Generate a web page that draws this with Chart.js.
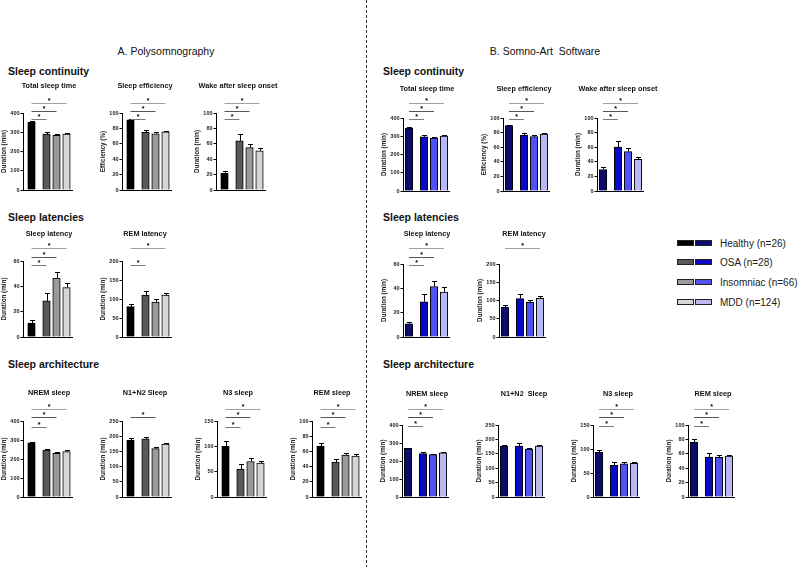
<!DOCTYPE html>
<html>
<head>
<meta charset="utf-8">
<script src="https://cdn.jsdelivr.net/npm/chart.js@4.4.1/dist/chart.umd.min.js"></script>
<style>
  html, body { margin: 0; padding: 0; background: #fff; }
  body { width: 800px; height: 567px; position: relative; overflow: hidden; font-family: 'Liberation Sans', Arial, sans-serif; color: #111; }
  canvas { position: absolute; }
  .lbl { position: absolute; white-space: pre; line-height: 1; }
  .panel { font-size: 10.5px; transform: translate(-50%, -50%); }
  .section { font-size: 10.5px; font-weight: bold; transform: translateY(-50%); }
  .divider { position: absolute; left: 366px; top: 0; width: 1px; height: 567px;
    background: repeating-linear-gradient(to bottom, #333 0 3px, transparent 3px 5px); }
  .sw { position: absolute; width: 17px; height: 6px; border: 1px solid #222; box-sizing: border-box; }
  .leg { position: absolute; font-size: 10px; color: #222; transform: translateY(-50%); white-space: pre; }
</style>
</head>
<body>
<div class="divider"></div>
<div class="lbl panel" style="left:166px;top:51px">A. Polysomnography</div>
<div class="lbl panel" style="left:545px;top:51px">B. Somno-Art  Software</div>

<script>
const FONT = "'Liberation Sans', Arial, sans-serif"
Chart.defaults.font.family = FONT

const groups = ['Healthy (n=26)', 'OSA (n=28)', 'Insomniac (n=66)', 'MDD (n=124)']
const barSlots = [0, 1.5, 2.5, 3.5]
const grayColors = ['#000000', '#595959', '#9a9a9a', '#d6d6d6']
const blueColors = ['#0c0c6e', '#0a0ac4', '#5252f2', '#b8b8f6']
const bracketColors = ['#7a7a7a', '#555555', '#a0a0a0']

// A. Polysomnography, mean and SEM
const psgTotalSleep = [352, 290, 284, 291]
const psgTotalSleepErr = [5, 12, 7, 5]
const psgEfficiency = [91, 75, 73, 75.5]
const psgEfficiencyErr = [1.5, 3.5, 2, 1.5]
const psgWaso = [21.5, 64, 55, 51]
const psgWasoErr = [3.5, 9, 4.5, 4]
const psgSleepLatency = [11, 28.5, 46.5, 39]
const psgSleepLatencyErr = [2.5, 6.5, 5, 4]
const psgRemLatency = [80, 110, 92, 110]
const psgRemLatencyErr = [8, 12, 7, 5]
const psgNrem = [285, 247, 230, 239]
const psgNremErr = [7, 8, 6, 6]
const psgN1N2 = [187, 191, 159, 174]
const psgN1N2Err = [8, 8, 6, 5]
const psgN3 = [100, 55, 70, 67]
const psgN3Err = [11, 10, 6, 4]
const psgRem = [67, 46, 55, 54]
const psgRemErr = [4.5, 4.5, 2.5, 2]

// B. Somno-Art Software, mean and SEM
const saTotalSleep = [345, 297, 290, 301]
const saTotalSleepErr = [5, 12, 7, 5]
const saEfficiency = [89.5, 76.5, 74.5, 78]
const saEfficiencyErr = [1.5, 3.5, 2.5, 2]
const saWaso = [29.5, 60, 54, 43.5]
const saWasoErr = [4, 9, 4.5, 3]
const saSleepLatency = [10.8, 29, 41.5, 37]
const saSleepLatencyErr = [1.7, 6, 4.5, 4]
const saRemLatency = [81, 105, 95, 106]
const saRemLatencyErr = [7, 12, 6, 6]
const saNrem = [270, 241, 235, 245]
const saNremErr = [4, 9, 4, 5]
const saN1N2 = [177, 177, 166, 177]
const saN1N2Err = [4, 9, 5, 5]
const saN3 = [93, 66, 69, 70]
const saN3Err = [4, 7, 3.5, 3]
const saRem = [76, 55.5, 55, 57]
const saRemErr = [4, 5, 3, 2]

// rows: y of top tick, y of zero, title y, bracket y for bars 2..4
const rowA1 = { top: 113, bottom: 190, titleY: 86, brackets: [119, 111, 103] }
const rowA2 = { top: 261, bottom: 337, titleY: 234, brackets: [265, 257, 248] }
const rowA3 = { top: 421, bottom: 497, titleY: 393, brackets: [427, 417, 409] }
const rowB1 = { top: 118, bottom: 191, titleY: 89, brackets: [119, 111, 103] }
const rowB2 = { top: 264, bottom: 337, titleY: 234, brackets: [265, 257, 248] }
const rowB3 = { top: 425, bottom: 497, titleY: 394, brackets: [426, 417, 409] }

const charts = [
  { panel: 'A', row: rowA1, axisX: 23, titleX: 49, title: 'Total sleep time', yTitle: 'Duration (min)', max: 400, step: 100, values: psgTotalSleep, errors: psgTotalSleepErr, sig: [1, 2, 3] },
  { panel: 'A', row: rowA1, axisX: 122, titleX: 145, title: 'Sleep efficiency', yTitle: 'Efficiency (%)', max: 100, step: 20, values: psgEfficiency, errors: psgEfficiencyErr, sig: [1, 2, 3] },
  { panel: 'A', row: rowA1, axisX: 216, titleX: 238, title: 'Wake after sleep onset', yTitle: 'Duration (min)', max: 100, step: 20, values: psgWaso, errors: psgWasoErr, sig: [1, 2, 3] },
  { panel: 'A', row: rowA2, axisX: 23, titleX: 49, title: 'Sleep latency', yTitle: 'Duration (min)', max: 60, step: 20, values: psgSleepLatency, errors: psgSleepLatencyErr, sig: [1, 2, 3] },
  { panel: 'A', row: rowA2, axisX: 122, titleX: 145, title: 'REM latency', yTitle: 'Duration (min)', max: 200, step: 50, values: psgRemLatency, errors: psgRemLatencyErr, sig: [1, 3] },
  { panel: 'A', row: rowA3, axisX: 23, titleX: 49, title: 'NREM sleep', yTitle: 'Duration (min)', max: 400, step: 100, values: psgNrem, errors: psgNremErr, sig: [1, 2, 3] },
  { panel: 'A', row: rowA3, axisX: 122, titleX: 145, title: 'N1+N2 Sleep', yTitle: 'Duration (min)', max: 250, step: 50, values: psgN1N2, errors: psgN1N2Err, sig: [2] },
  { panel: 'A', row: rowA3, axisX: 217, titleX: 238, title: 'N3 sleep', yTitle: 'Duration (min)', max: 150, step: 50, values: psgN3, errors: psgN3Err, sig: [1, 2, 3] },
  { panel: 'A', row: rowA3, axisX: 312, titleX: 332, title: 'REM sleep', yTitle: 'Duration (min)', max: 100, step: 20, values: psgRem, errors: psgRemErr, sig: [1, 2, 3] },

  { panel: 'B', row: rowB1, axisX: 403, titleX: 427, title: 'Total sleep time', yTitle: 'Duration (min)', max: 400, step: 100, values: saTotalSleep, errors: saTotalSleepErr, sig: [1, 2, 3] },
  { panel: 'B', row: rowB1, axisX: 503, titleX: 524, title: 'Sleep efficiency', yTitle: 'Efficiency (%)', max: 100, step: 20, values: saEfficiency, errors: saEfficiencyErr, sig: [1, 2, 3] },
  { panel: 'B', row: rowB1, axisX: 597, titleX: 618, title: 'Wake after sleep onset', yTitle: 'Duration (min)', max: 100, step: 20, values: saWaso, errors: saWasoErr, sig: [1, 2, 3] },
  { panel: 'B', row: rowB2, axisX: 403, titleX: 427, title: 'Sleep latency', yTitle: 'Duration (min)', max: 60, step: 20, values: saSleepLatency, errors: saSleepLatencyErr, sig: [1, 2, 3] },
  { panel: 'B', row: rowB2, axisX: 499, titleX: 524, title: 'REM latency', yTitle: 'Duration (min)', max: 200, step: 50, values: saRemLatency, errors: saRemLatencyErr, sig: [3] },
  { panel: 'B', row: rowB3, axisX: 402, titleX: 427, title: 'NREM sleep', yTitle: 'Duration (min)', max: 400, step: 100, values: saNrem, errors: saNremErr, sig: [1, 2, 3] },
  { panel: 'B', row: rowB3, axisX: 498, titleX: 524, title: 'N1+N2  Sleep', yTitle: 'Duration (min)', max: 250, step: 50, values: saN1N2, errors: saN1N2Err, sig: [] },
  { panel: 'B', row: rowB3, axisX: 593, titleX: 618, title: 'N3 sleep', yTitle: 'Duration (min)', max: 150, step: 50, values: saN3, errors: saN3Err, sig: [1, 2, 3] },
  { panel: 'B', row: rowB3, axisX: 688, titleX: 713, title: 'REM sleep', yTitle: 'Duration (min)', max: 100, step: 20, values: saRem, errors: saRemErr, sig: [1, 2, 3] },
]

const sections = [
  { text: 'Sleep continuity', x: 8, y: 71 },
  { text: 'Sleep latencies', x: 8, y: 217 },
  { text: 'Sleep architecture', x: 8, y: 364 },
  { text: 'Sleep continuity', x: 383, y: 71 },
  { text: 'Sleep latencies', x: 383, y: 217 },
  { text: 'Sleep architecture', x: 383, y: 364 },
]

sections.forEach((s) => {
  const el = document.createElement('div')
  el.className = 'lbl section'
  el.style.left = s.x + 'px'
  el.style.top = s.y + 'px'
  el.textContent = s.text
  document.body.appendChild(el)
})

// legend: grey swatch + blue swatch + label
const legendRows = [243, 262, 282, 302]
groups.forEach((g, i) => {
  const a = document.createElement('div')
  a.className = 'sw'
  a.style.left = '677px'
  a.style.top = legendRows[i] - 3 + 'px'
  a.style.background = grayColors[i]
  const b = document.createElement('div')
  b.className = 'sw'
  b.style.left = '695px'
  b.style.top = legendRows[i] - 3 + 'px'
  b.style.background = blueColors[i]
  const t = document.createElement('div')
  t.className = 'leg'
  t.style.left = '720px'
  t.style.top = legendRows[i] + 'px'
  t.textContent = g
  document.body.append(a, b, t)
})

const makeChart = function (c) {
  const side = 24
  const head = 40
  const foot = 6
  const extra = 16
  const plotW = c.panel === 'A' ? 49 : 46
  const row = c.row
  const left = c.axisX - side
  const top = row.top - head
  const canvas = document.createElement('canvas')
  canvas.width = side + plotW + extra
  canvas.height = head + (row.bottom - row.top) + foot
  canvas.style.left = left + 'px'
  canvas.style.top = top + 'px'
  document.body.appendChild(canvas)

  const colors = c.panel === 'A' ? grayColors : blueColors

  // error bars, significance brackets and the small chart title
  const extras = {
    id: 'extras',
    afterDatasetsDraw(chart) {
      const ctx = chart.ctx
      const bars = chart.getDatasetMeta(0).data
      const y = chart.scales.y
      ctx.save()
      ctx.lineWidth = 1
      ctx.strokeStyle = '#000'
      bars.forEach((bar, i) => {
        const x = Math.round(bar.x) + 0.5
        const yTop = Math.round(y.getPixelForValue(c.values[i] + c.errors[i])) + 0.5
        ctx.beginPath()
        ctx.moveTo(x, bar.y)
        ctx.lineTo(x, yTop)
        ctx.moveTo(x - 2.5, yTop)
        ctx.lineTo(x + 2.5, yTop)
        ctx.stroke()
      })
      c.sig.forEach((k) => {
        const ly = Math.round(row.brackets[k - 1] - top) + 0.5
        ctx.strokeStyle = bracketColors[k - 1]
        ctx.beginPath()
        ctx.moveTo(bars[0].x, ly)
        ctx.lineTo(bars[k].x, ly)
        ctx.stroke()
        ctx.fillStyle = '#000'
        ctx.font = 'bold 7px ' + FONT
        ctx.textAlign = 'center'
        ctx.textBaseline = 'alphabetic'
        ctx.fillText('*', (bars[0].x + bars[k].x) / 2, ly - 0.5)
      })
      ctx.fillStyle = '#111'
      ctx.font = 'bold 7.3px ' + FONT
      ctx.textAlign = 'center'
      ctx.textBaseline = 'middle'
      ctx.fillText(c.title, c.titleX - left, row.titleY - top)
      ctx.restore()
    },
  }

  new Chart(canvas, {
    type: 'bar',
    data: {
      datasets: [
        {
          data: c.values.map((v, i) => ({ x: barSlots[i], y: v })),
          backgroundColor: colors,
          borderColor: '#000',
          borderWidth: 1,
          grouped: false,
          barThickness: 7.5,
          maxBarThickness: 7.5,
        },
      ],
    },
    options: {
      responsive: false,
      animation: false,
      devicePixelRatio: 1,
      layout: { padding: { left: 0, right: extra, top: head, bottom: 0 } },
      plugins: {
        legend: { display: false },
        tooltip: { enabled: false },
        title: { display: false },
      },
      scales: {
        x: {
          type: 'linear',
          offset: false,
          min: c.panel === 'A' ? -0.85 : -0.6,
          max: c.panel === 'A' ? 4.05 : 4.0,
          ticks: { display: false },
          grid: { display: false, drawTicks: false },
          border: { display: true, color: '#000', width: 1 },
          afterFit: (s) => {
            s.height = foot
          },
        },
        y: {
          min: 0,
          max: c.max,
          ticks: {
            stepSize: c.step,
            color: '#222',
            padding: 1,
            font: { size: 5.5, weight: 'bold' },
          },
          grid: { drawOnChartArea: false, drawTicks: true, tickLength: 2.5, color: '#000' },
          border: { color: '#000', width: 1 },
          title: {
            display: true,
            text: c.yTitle,
            color: '#222',
            padding: { top: 1, bottom: 0 },
            font: { size: 6.3, weight: 'bold' },
          },
          afterFit: (s) => {
            s.width = side
          },
        },
      },
    },
    plugins: [extras],
  })
}

charts.forEach(makeChart)
</script>
</body>
</html>
